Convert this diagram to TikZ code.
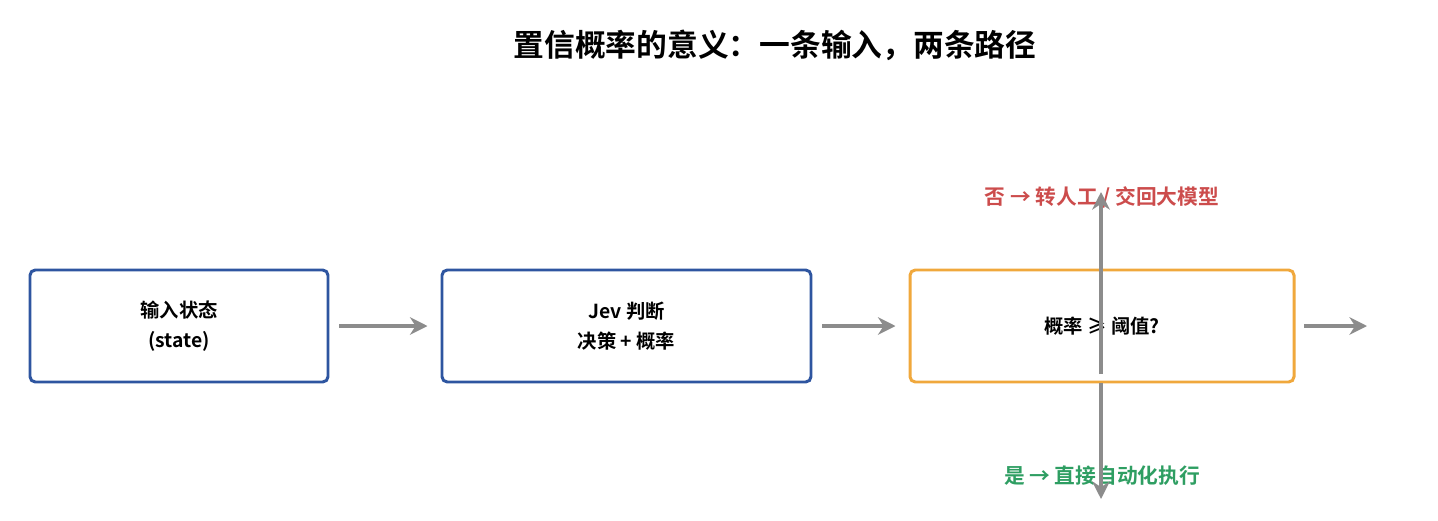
\documentclass[tikz,border=0pt]{standalone}
\usepackage{fontspec}
\setmainfont{Noto Sans CJK SC}[BoldFont={Noto Sans CJK SC Bold}]
\usetikzlibrary{arrows.meta}
\definecolor{boxblue}{HTML}{2E55A0}
\definecolor{boxorange}{HTML}{F0A83C}
\definecolor{flowgray}{HTML}{8C8C8C}
\definecolor{noRed}{HTML}{CC4C4C}
\definecolor{yesGreen}{HTML}{2E9E62}
\tikzset{
  stepbox/.style={draw=boxblue, line width=1.7pt, rounded corners=3pt, fill=white,
    align=center, font=\bfseries\fontsize{11}{17}\selectfont, inner sep=0pt},
  flow/.style={draw=flowgray, line width=2.2pt, -{Stealth[length=10pt,width=10pt]}},
}
\begin{document}
\begin{tikzpicture}[x=0.02cm, y=-0.02cm]
  \useasboundingbox (0,0) rectangle (1438,521);
  % タイトル
  \node (title) at (775,45) {\bfseries\fontsize{17.5}{20}\selectfont 置信概率的意义：一条输入，两条路径};

  % 各ステップ
  \node[stepbox, minimum width=298*0.02cm, minimum height=112*0.02cm] (input) at (179,326) {输入状态\\(state)};
  \node[stepbox, minimum width=369*0.02cm, minimum height=112*0.02cm] (judge) at (626.5,326) {Jev 判断\\决策 + 概率};
  \node[stepbox, draw=boxorange, minimum width=384*0.02cm, minimum height=112*0.02cm] (check) at (1102,326) {概率 ≥ 阈值?};

  % 分岐ラベル
  \node[text=noRed, font=\bfseries\fontsize{11.8}{14}\selectfont] (no) at (1102,197) {否 → 转人工 / 交回大模型};
  \node[text=yesGreen, font=\bfseries\fontsize{11.8}{14}\selectfont] (yes) at (1102,476) {是 → 直接自动化执行};

  \coordinate (upS) at (1101,374);
  \coordinate (upE) at (1101,192);
  \coordinate (dnS) at (1101,383);
  \coordinate (dnE) at (1101,499);
  \coordinate (outS) at (1304,326);
  \coordinate (outE) at (1367,326);

  % 矢印
  \draw[flow] ([xshift=10*0.02cm]input.east) -- ([xshift=-13*0.02cm]judge.west);
  \draw[flow] ([xshift=10*0.02cm]judge.east) -- ([xshift=-13*0.02cm]check.west);
  \draw[flow] (outS) -- (outE);
  \draw[flow] (upS) -- (upE);
  \draw[flow] (dnS) -- (dnE);
\end{tikzpicture}
\end{document}
